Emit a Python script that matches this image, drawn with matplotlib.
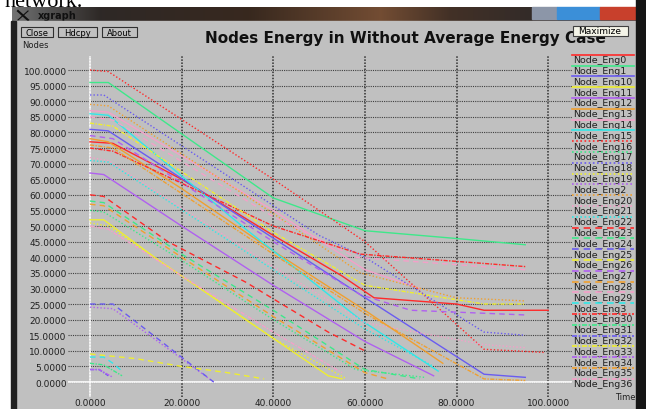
import numpy as np
import matplotlib
matplotlib.use("Agg")
import matplotlib.pyplot as plt
from matplotlib.patches import Rectangle

# legend order as shown by xgraph
node_names = ['Node_Eng0', 'Node_Eng1', 'Node_Eng10', 'Node_Eng11', 'Node_Eng12',
              'Node_Eng13', 'Node_Eng14', 'Node_Eng15', 'Node_Eng16', 'Node_Eng17',
              'Node_Eng18', 'Node_Eng19', 'Node_Eng2', 'Node_Eng20', 'Node_Eng21',
              'Node_Eng22', 'Node_Eng23', 'Node_Eng24', 'Node_Eng25', 'Node_Eng26',
              'Node_Eng27', 'Node_Eng28', 'Node_Eng29', 'Node_Eng3', 'Node_Eng30',
              'Node_Eng31', 'Node_Eng32', 'Node_Eng33', 'Node_Eng34', 'Node_Eng35',
              'Node_Eng36']

# time / energy points (same order as node_names)
node_times = [
    [0, 5, 20, 40, 55, 62, 80, 86, 100],   # Eng0
    [0, 4, 40, 60, 80, 95],                 # Eng1
    [0, 4, 59, 86, 95],                     # Eng10
    [0, 3, 15, 52, 55],                     # Eng11
    [0, 3, 20, 40, 60, 75],                 # Eng12
    [0, 4, 20, 40, 60, 77],                 # Eng13
    [0, 4, 40, 60, 72],                     # Eng14
    [0, 4, 34, 59, 76],                     # Eng15
    [0, 4, 40, 60, 86, 99],                 # Eng16
    [0, 3, 20, 40, 58, 73],                 # Eng17
    [0, 3, 50, 60, 86, 95],                 # Eng18
    [0, 4, 20, 40, 56],                     # Eng19
    [0, 5, 27],                             # Eng2
    [0, 4, 40, 59, 80, 95],                 # Eng20
    [0, 4, 40, 60, 86, 95],                 # Eng21
    [0, 4, 40, 60, 75],                     # Eng22
    [0, 3, 17, 34, 52, 60],                 # Eng23
    [0, 3, 20, 40, 60, 72],                 # Eng24
    [0, 5, 27],                             # Eng25
    [0, 10, 20, 30, 38],                    # Eng26
    [0, 5, 40, 59, 70, 95],                 # Eng27
    [0, 3, 20, 40, 60, 65],                 # Eng28
    [0, 5, 40, 58, 95],                     # Eng29
    [0, 3, 5, 7],                           # Eng3
    [0, 5, 40, 59, 95],                     # Eng30
    [0, 3, 7],                              # Eng31
    [0, 2, 4],                              # Eng32
    [0, 5, 40, 60, 86, 95],                 # Eng33
    [0, 2, 5],                              # Eng34
    [0, 5, 40, 60, 86, 95],                 # Eng35
    [0, 4, 20, 40, 55],                     # Eng36
]
node_energy = [
    [77, 76.5, 65, 47, 34, 27, 25, 23, 23],
    [96, 96, 59, 48.5, 46, 44],
    [81, 80.5, 28, 2.5, 1.5],
    [52, 52, 39, 2, 1],
    [67, 66.5, 50, 31, 13, 2],
    [78, 77, 62, 42, 23, 6],
    [87, 86.5, 55, 36, 30],
    [86, 85.5, 49, 20, 3.5],
    [100, 99.5, 65, 45, 10.5, 9.5],
    [55, 54.5, 39, 20, 4, 1.5],
    [92, 92, 47, 40, 16, 15],
    [51, 50, 34, 14, 1],
    [24, 23.5, 0],
    [89, 88.5, 54, 35, 27, 26],
    [72, 71, 37, 19, 12, 11],
    [71, 70.5, 36, 17, 5],
    [60, 59.5, 45, 32, 16, 10],
    [58, 57.5, 41, 23, 4, 1],
    [25, 25, 0],
    [9, 7.5, 5, 3, 1],
    [79, 78, 45, 28, 23, 21.5],
    [57, 56.5, 40, 21, 3, 1],
    [85, 84, 53, 40, 36],
    [8, 8, 6, 3.5],
    [75, 74, 50, 41, 37],
    [6, 5.5, 2],
    [4, 4, 2],
    [83, 82, 48, 31, 25, 25],
    [4, 4, 1.5],
    [76, 75, 41, 22, 1, 0.5],
    [50, 49, 34, 16, 3],
]

y_ticks = list(range(0, 101, 5))
x_ticks = [0, 20, 40, 60, 80, 100]

colors = ['#ff2a2a', '#3ee88a', '#6a5cf0', '#eeee30', '#b060f0', '#f0a030', '#f4a0c8', '#30e8e8']
styles = ['-', (0, (1, 1.5)), (0, (4, 3)), (0, (3, 1, 1, 1))]

W, H = 646, 410
fig = plt.figure(figsize=(W / 100, H / 100), dpi=100)

# window chrome, drawn in pixel coordinates
bg = fig.add_axes([0, 0, 1, 1])
bg.set_xlim(0, W)
bg.set_ylim(H, 0)
bg.axis('off')
bg.add_patch(Rectangle((0, 0), W, H, color='white'))
bg.text(4, 7, 'network.', fontsize=16, family='Liberation Serif', va='baseline')

# title bar gradient
bx = np.arange(12, W)
stops = [12, 45, 100, 250, 380, 450, 530, 646]
rgb = [(0.45, 0.45, 0.45), (0.33, 0.33, 0.33), (0.18, 0.16, 0.15), (0.22, 0.16, 0.12),
       (0.45, 0.30, 0.20), (0.26, 0.19, 0.15), (0.20, 0.17, 0.16), (0.28, 0.22, 0.22)]
bar = np.stack([np.interp(bx, stops, [c[k] for c in rgb]) for k in range(3)], axis=-1)[None, :, :]
bg.imshow(bar, extent=(12, W, 23, 8), aspect='auto', zorder=1)
bg.plot([18, 28], [12, 21], color='#101010', lw=1.5, zorder=2)
bg.plot([18, 28], [21, 12], color='#101010', lw=0.8, zorder=2)
bg.text(38, 16, 'xgraph', fontsize=7, weight='bold', color='#101010', va='center', zorder=2)
bg.add_patch(Rectangle((532, 8), 25, 12, color='#8c96a8', zorder=2))
bg.add_patch(Rectangle((557, 8), 43, 12, color='#3b8fd8', zorder=2))
bg.add_patch(Rectangle((600, 8), 38, 12, color='#c8402c', zorder=2))
bg.add_patch(Rectangle((14, 22), 624, H - 22, color='#c0c0c0', zorder=2))
bg.add_patch(Rectangle((11, 22), 5, H - 22, color='#202020', zorder=2))
bg.add_patch(Rectangle((636, 0), 10, H, color='#151515', zorder=2))
for x0, x1, label in [(21, 53, 'Close'), (58, 97, 'Hdcpy'), (102, 137, 'About')]:
    bg.add_patch(Rectangle((x0, 28), x1 - x0, 10, fill=False, ec='#303030', lw=0.8, zorder=3))
    bg.text((x0 + x1) / 2, 33, label, fontsize=6, ha='center', va='center', zorder=3)
bg.text(22, 45, 'Nodes', fontsize=6, va='center', color='#202020', zorder=3)
bg.text(405, 38, 'Nodes Energy in Without Average Energy Case', fontsize=11, weight='bold',
        ha='center', va='center', color='#101010', zorder=3)
bg.add_patch(Rectangle((573, 27), 55, 10, fc='#f4f4e8', ec='#404040', lw=0.8, zorder=4))
bg.text(600, 32, 'Maximize', fontsize=6.5, ha='center', va='center', zorder=5)
bg.text(625, 398, 'Time', fontsize=6, ha='center', va='center', color='#202020', zorder=3)

# legend on the right
for i, name in enumerate(node_names):
    yt = 60.7 + 10.8 * i
    bg.plot([572, 634], [yt - 5, yt - 5], color=colors[i % 8], ls=styles[i // 8], lw=1.2, zorder=3)
    bg.text(573, yt, name, fontsize=6.8, va='center', color='#202020', zorder=3)

# plot area
ax = fig.add_axes([68 / W, 1 - 398 / H, (572 - 68) / W, (398 - 57) / H])
ax.patch.set_alpha(0)
ax.set_xlim(-4.8, 105.2)
ax.set_ylim(-4.8, 104.5)
for s in ax.spines.values():
    s.set_visible(False)
ax.set_yticks(y_ticks)
ax.set_yticklabels(['%.4f' % v for v in y_ticks])
ax.set_xticks(x_ticks)
ax.set_xticklabels(['%.4f' % v for v in x_ticks])
ax.tick_params(length=0, labelsize=6.5, labelcolor='#202020', pad=1)
ax.grid(axis='y', color='#404040', ls=(0, (1, 1)), lw=0.8)
ax.grid(axis='x', color='#303030', ls=(0, (1, 1)), lw=1.1)
ax.axvline(0, color='white', lw=1.2)
ax.axhline(0, color='white', lw=1.2)

for i, name in enumerate(node_names):
    ax.plot(node_times[i], node_energy[i], color=colors[i % 8], ls=styles[i // 8], lw=1.0)

fig.savefig('out.png', dpi=100)
